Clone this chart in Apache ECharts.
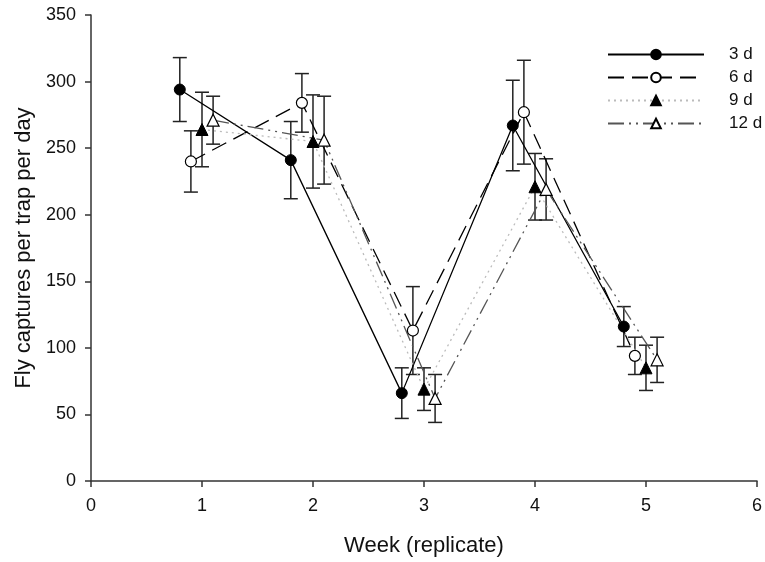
<!DOCTYPE html>
<html>
<head>
<meta charset="utf-8">
<script src="https://cdn.jsdelivr.net/npm/echarts@6/dist/echarts.min.js"></script>
<style>html,body{margin:0;padding:0;background:#fff}#c{width:765px;height:562px}</style>
</head>
<body>
<div id="c"></div>
<script>
// ---- data ----
const seriesNames = ['3 d', '6 d', '9 d', '12 d'];
const x3 = [0.8, 1.8, 2.8, 3.8, 4.8];
const x6 = [0.9, 1.9, 2.9, 3.9, 4.9];
const x9 = [1.0, 2.0, 3.0, 4.0, 5.0];
const x12 = [1.1, 2.1, 3.1, 4.1, 5.1];
const mean3 = [294, 241, 66, 267, 116];
const err3 = [24, 29, 19, 34, 15];
const mean6 = [240, 284, 113, 277, 94];
const err6 = [23, 22, 33, 39, 14];
const mean9 = [264, 255, 69, 221, 85];
const err9 = [28, 35, 16, 25, 17];
const mean12 = [271, 256, 62, 219, 91];
const err12 = [18, 33, 18, 23, 17];
const xTicks = [0, 1, 2, 3, 4, 5, 6];
const yTicks = [0, 50, 100, 150, 200, 250, 300, 350];

const font = 'Liberation Sans, Arial, sans-serif';

function pts(xs, ys) { return xs.map((x, i) => [x, ys[i]]); }
function errData(xs, ys, es) { return xs.map((x, i) => [x, ys[i] - es[i], ys[i] + es[i]]); }

function errSeries(xs, ys, es) {
  return {
    type: 'custom',
    data: errData(xs, ys, es),
    z: 1,
    silent: true,
    renderItem: function (params, api) {
      const x = api.value(0);
      const lo = api.coord([x, api.value(1)]);
      const hi = api.coord([x, api.value(2)]);
      const w = 7;
      const st = { stroke: '#222', lineWidth: 1.5 };
      return {
        type: 'group',
        children: [
          { type: 'line', shape: { x1: lo[0], y1: lo[1], x2: hi[0], y2: hi[1] }, style: st },
          { type: 'line', shape: { x1: lo[0] - w, y1: lo[1], x2: lo[0] + w, y2: lo[1] }, style: st },
          { type: 'line', shape: { x1: hi[0] - w, y1: hi[1], x2: hi[0] + w, y2: hi[1] }, style: st }
        ]
      };
    }
  };
}

const chart = echarts.init(document.getElementById('c'), null, { renderer: 'canvas' });
chart.setOption({
  animation: false,
  backgroundColor: '#fff',
  grid: { left: 91, right: 4, top: 15, bottom: 80, containLabel: false },
  legend: {
    orient: 'vertical',
    left: 602,
    top: 41,
    itemWidth: 96,
    itemHeight: 12,
    itemGap: 6,
    data: seriesNames,
    textStyle: { fontFamily: font, fontSize: 17, color: '#111', padding: [0, 0, 0, 20] }
  },
  xAxis: {
    type: 'value',
    min: 0, max: 6, interval: 1,
    name: 'Week (replicate)',
    nameLocation: 'middle',
    nameGap: 54,
    nameTextStyle: { fontFamily: font, fontSize: 22, color: '#111' },
    axisLine: { show: true, lineStyle: { color: '#333', width: 1.5 } },
    axisTick: { show: true, length: 6, lineStyle: { color: '#333', width: 1.5 } },
    axisLabel: { fontFamily: font, fontSize: 18, color: '#111', margin: 16,
      formatter: v => xTicks.includes(v) ? String(v) : '' },
    splitLine: { show: false }
  },
  yAxis: {
    type: 'value',
    min: 0, max: 350, interval: 50,
    name: 'Fly captures per trap per day',
    nameLocation: 'middle',
    nameGap: 55,
    nameRotate: 90,
    nameTextStyle: { fontFamily: font, fontSize: 22, color: '#111', padding: [0, 0, 0, 0] },
    axisLine: { show: true, lineStyle: { color: '#333', width: 1.5 } },
    axisTick: { show: true, length: 6, lineStyle: { color: '#333', width: 1.5 } },
    axisLabel: { fontFamily: font, fontSize: 18, color: '#111', margin: 15,
      formatter: v => yTicks.includes(v) ? String(v) : '' },
    splitLine: { show: false }
  },
  series: [
    errSeries(x3, mean3, err3),
    errSeries(x6, mean6, err6),
    errSeries(x9, mean9, err9),
    errSeries(x12, mean12, err12),
    {
      name: '3 d', type: 'line', data: pts(x3, mean3), z: 3,
      symbol: 'circle', symbolSize: 11,
      itemStyle: { color: '#000', borderColor: '#000', borderWidth: 1 },
      lineStyle: { color: '#000', width: 1.3, type: 'solid' }
    },
    {
      name: '6 d', type: 'line', data: pts(x6, mean6), z: 3,
      symbol: 'circle', symbolSize: 11,
      itemStyle: { color: '#fff', borderColor: '#000', borderWidth: 1.2 },
      lineStyle: { color: '#000', width: 1.3, type: [16, 8] }
    },
    {
      name: '9 d', type: 'line', data: pts(x9, mean9), z: 3,
      symbol: 'triangle', symbolSize: 12,
      itemStyle: { color: '#000', borderColor: '#000', borderWidth: 1 },
      lineStyle: { color: '#bbb', width: 1.3, type: [2, 4] }
    },
    {
      name: '12 d', type: 'line', data: pts(x12, mean12), z: 3,
      symbol: 'triangle', symbolSize: 12,
      itemStyle: { color: '#fff', borderColor: '#000', borderWidth: 1.2 },
      lineStyle: { color: '#555', width: 1.3, type: [16, 5, 2, 5, 2, 5] }
    }
  ]
});
</script>
</body>
</html>
